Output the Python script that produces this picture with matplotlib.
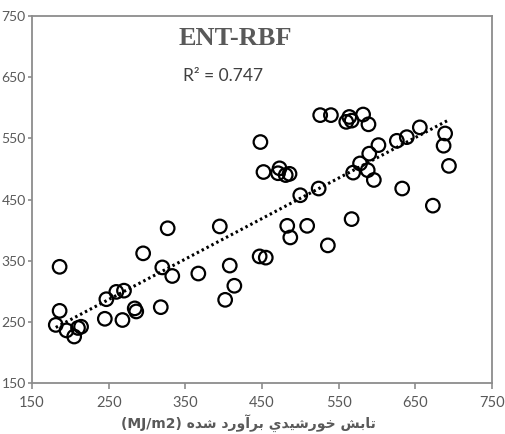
import matplotlib
matplotlib.use("Agg")
import matplotlib.pyplot as plt
import numpy as np

# estimated vs. measured solar radiation (ENT-RBF)
x_est = [448, 452, 473, 471, 481, 486, 500, 524, 526, 540,
         560, 564, 567, 582, 589, 569, 578, 588, 590, 596,
         602, 626, 639, 633, 656, 673, 689, 687, 694,
         567, 483, 509, 487, 536, 447, 455, 408, 414, 402,
         395, 327, 367, 295, 320, 333, 318,
         186, 186, 181, 195, 205, 210, 214, 245, 247, 260,
         270, 268, 284, 286]
y_obs = [544, 495, 501, 493, 490, 492, 457, 468, 588, 588,
         577, 585, 579, 589, 573, 494, 509, 498, 525, 482,
         539, 546, 552, 468, 568, 440, 558, 538, 505,
         418, 407, 407, 388, 375, 357, 355, 342, 309, 286,
         406, 403, 329, 362, 339, 325, 274,
         340, 268, 245, 236, 226, 240, 242, 255, 287, 299,
         301, 253, 272, 267]

xticks = [150, 250, 350, 450, 550, 650, 750]
yticks = [150, 250, 350, 450, 550, 650, 750]
title = "ENT-RBF"
r2_text = "R² = 0.747"

# persian label, shaped by hand (visual order) since matplotlib has no bidi
words = [
    "\uFEB7\uFEAA\uFEE9",                          # شده
    "\uFE91\uFEAE\uFE81\uFEED\uFEAD\uFEA9",        # برآورد
    "\uFEA7\uFEEE\uFEAD\uFEB7\uFEF4\uFEAA\uFEF1",  # خورشيدي
    "\uFE97\uFE8E\uFE91\uFEB6",                    # تابش
]
xlabel = "(MJ/m2) " + " ".join(w[::-1] for w in words)

gray = "#595959"
spine = "#8c8c8c"

fig = plt.figure(figsize=(5.05, 4.34), dpi=100)
ax = fig.add_axes([0.0634, 0.1175, 0.9106, 0.8455])

ax.scatter(x_est, y_obs, s=95, facecolors="none", edgecolors="black",
           linewidths=1.6, zorder=3)

coef = np.polyfit(x_est, y_obs, 1)
xs = np.array([min(x_est), max(x_est)])
ax.plot(xs, np.polyval(coef, xs), color="black", lw=2.2,
        linestyle=(0, (0.8, 1.0)), zorder=2)

ax.set_xlim(150, 750)
ax.set_ylim(150, 750)
ax.set_xticks(xticks)
ax.set_yticks(yticks)
for s in ax.spines.values():
    s.set_color(spine)
    s.set_linewidth(1.3)
ax.tick_params(direction="out", length=4, color=spine, width=1.2,
               labelsize=10.5, labelcolor=gray, pad=5)
ax.tick_params(axis="y", length=3, pad=1.5, labelsize=10)
for lab in ax.get_xticklabels() + ax.get_yticklabels():
    lab.set_family("Lato")

ax.text(415, 713, title, ha="center", va="center", fontsize=19,
        fontweight="bold", family="Liberation Serif", color=gray)
ax.text(399, 652, r2_text, ha="center", va="center", fontsize=12.5,
        family="Lato", color="#404040")

ax.set_xlabel(xlabel, fontsize=10, fontweight="bold", color=gray,
              family=["DejaVu Sans"], labelpad=3)
ax.xaxis.set_label_coords(0.47, -0.085)

fig.savefig("out.png", dpi=100)
